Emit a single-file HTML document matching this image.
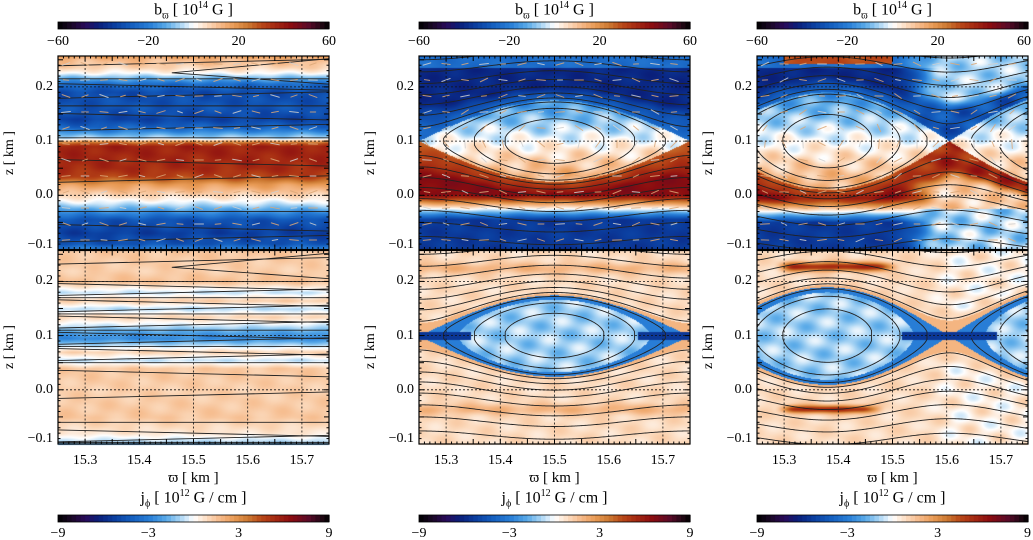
<!DOCTYPE html>
<html><head><meta charset="utf-8">
<style>
html,body{margin:0;padding:0;background:#fff;}
#root{position:relative;width:1033px;height:540px;overflow:hidden;font-family:"Liberation Serif",serif;color:#000;}
canvas,svg{position:absolute;left:0;top:0;}
.t{position:absolute;white-space:nowrap;font-size:14px;line-height:1;}
.ttl{position:absolute;white-space:nowrap;font-size:16px;line-height:1;transform:translateX(-50%);}
.ttl sub,.ttl sup{font-size:10px;}
</style></head>
<body>
<div id="root">
<canvas id="cv" width="1033" height="540"></canvas>
<svg id="sv" width="1033" height="540"></svg>
</div>
<script>
// ---------------- data ----------------
const xTicks = [15.3, 15.4, 15.5, 15.6, 15.7];
const zTicks = [0.2, 0.1, 0.0, -0.1];
const zTickLabels = ['0.2', '0.1', '0.0', '\u22120.1'];
const bBarTicks = [-60, -20, 20, 60];
const bBarLabels = ['\u221260', '\u221220', '20', '60'];
const jBarTicks = [-9, -3, 3, 9];
const jBarLabels = ['\u22129', '\u22123', '3', '9'];
// left column z-profiles
const leftBz = [0.257, 0.25, 0.235, 0.225, 0.215, 0.205, 0.19, 0.16, 0.14, 0.125, 0.112, 0.104, 0.097, 0.09, 0.05, 0.035, 0.02, 0.0, -0.015, -0.03, -0.045, -0.07, -0.09, -0.1];
const leftBv = [18, 12, 7, 0, -12, -24, -32, -30, -34, -26, -12, -3, 26, 38, 36, 32, 18, 7, -3, -16, -30, -35, -30, -18];
const leftJz = [0.257, 0.22, 0.2, 0.18, 0.165, 0.15, 0.135, 0.12, 0.105, 0.095, 0.085, 0.07, 0.055, 0.04, 0.0, -0.05, -0.08, -0.095, -0.1];
const leftJv = [1.4, 1.2, 1.6, -0.6, 1.3, -0.8, 1.1, -0.4, -2.2, -2.6, -1.1, 1.1, -0.6, 1.4, 1.2, 1.4, 0.6, -0.8, -1.8];
const leftTopContours = [0.245, 0.215, 0.2, 0.185, 0.165, 0.145, 0.125, 0.106, 0.06, 0.03, -0.03, -0.06, -0.08];
const leftBotContours = [0.238, 0.2, 0.19, 0.18, 0.17, 0.16, 0.15, 0.14, 0.13, 0.12, 0.11, 0.1, 0.09, 0.08, 0.07, 0.06, 0.05, 0.03, -0.01, -0.06, -0.08, -0.09, -0.097];
// cat's-eye islands: centre x, period, half-height, centre z, lower sheet z
const midEye = [15.5, 0.5, 0.075, 0.1, -0.025];
const rightEye = [15.38, 0.45, 0.09, 0.1, -0.03];
const psiLevels = [-0.4, 0.3, 0.85, 1.25, 1.8, 2.6, 3.6, 5, 6.8, 9, 12, 16];

// ---------------- geometry ----------------
const X0 = [58, 419, 757], PW = 271, Y0 = [56, 250.5], PH = 193.5;
const ZMAX = 0.257, ZR = 0.357;
function xOf(c, x) { return X0[c] + (x - 15.25) / 0.5 * PW; }
function zOf(r, z) { return Y0[r] + (ZMAX - z) / ZR * PH; }

const stops = [[-1,'#000000'],[-0.9,'#1a0826'],[-0.8,'#2a0a5a'],[-0.7,'#0a1f7a'],[-0.58,'#0b3fa0'],[-0.45,'#1560c0'],[-0.32,'#2a80d8'],[-0.2,'#5aaae8'],[-0.1,'#a8d4f4'],[0,'#ffffff'],[0.1,'#fcdcc0'],[0.2,'#f5b887'],[0.3,'#e89a55'],[0.4,'#cc7a32'],[0.5,'#b84818'],[0.6,'#a52a12'],[0.72,'#8a0c10'],[0.85,'#5a0a28'],[0.93,'#2a0818'],[1,'#000000']];
const stopRGB = stops.map(s => [s[0], parseInt(s[1].slice(1,3),16), parseInt(s[1].slice(3,5),16), parseInt(s[1].slice(5,7),16)]);
function cmap(t) {
  t = Math.max(-1, Math.min(1, t));
  for (let i = 1; i < stopRGB.length; i++) {
    if (t <= stopRGB[i][0]) {
      const a = stopRGB[i-1], b = stopRGB[i], f = (t - a[0]) / (b[0] - a[0]);
      return [a[1]+(b[1]-a[1])*f, a[2]+(b[2]-a[2])*f, a[3]+(b[3]-a[3])*f];
    }
  }
  return [0,0,0];
}
function interp(xs, vs, x) {
  if (x >= xs[0]) return vs[0];
  for (let i = 1; i < xs.length; i++) if (x >= xs[i]) { const f = (x - xs[i]) / (xs[i-1] - xs[i]); return vs[i] + (vs[i-1]-vs[i]) * f; }
  return vs[vs.length-1];
}
function sstep(a, b, x) { const t = Math.max(0, Math.min(1, (x - a) / (b - a))); return t * t * (3 - 2 * t); }
function psiOf(eye, x, z) {
  const d = z - eye[3], th = 2*Math.PI*(x - eye[0]) / eye[1];
  return { psi: 2*(d/eye[2])*(d/eye[2]) - Math.cos(th), d: d, th: th };
}
function noise(x, z) { return Math.sin(x*70 + z*45) * Math.cos(z*110 - x*25); }

function bEye(eye, x, z, right) {
  const p = psiOf(eye, x, z);
  const fr = right ? sstep(15.5, 15.6, x) : 0;   // right-side weak-field blend
  let v;
  const strong = 24 + 16 * Math.min(1, (p.psi - 1) / 1.5);
  if (p.psi < 1) {
    v = Math.max(-14, Math.min(12, -16 * p.d / eye[2])) + 4*noise(x,z);
  } else if (p.d > 0) {
    v = -strong;
    if (z > 0.235) v *= 0.6;
    if (right) {
      const band = 1 - sstep(1.6, 2.6, p.psi);
      v = v * (1 - fr) + fr * (-30 * band - 6 * (1 - band) + 4 * noise(x, z));
      if (z > 0.243 && x > 15.3 && x < 15.5) v = 30;
    }
  } else {
    const zL = eye[4];
    if (z > zL + 0.005) {
      v = (strong + 4) * Math.min(1, (z - zL) / 0.025);
      if (right) {
        const band = 1 - sstep(1.6, 2.6, p.psi);
        v = v * (1 - fr) + fr * (36 * band + 8 * (1 - band) + 5 * noise(x, z));
      }
    } else {
      v = -36 * Math.min(1, (zL - z) / 0.02);
      if (right) v = v * (1 - fr) + fr * (-6 + 6 * noise(x, z));
    }
  }
  return v + 2*noise(x, z);
}
function jEye(eye, x, z, right) {
  const p = psiOf(eye, x, z);
  let v;
  if (Math.abs(p.d) < 0.007 && Math.cos(p.th) < -0.35 && p.psi < 1.3) return -5.5;
  if (p.psi < 1) {
    v = p.psi > 0.6 ? -3.0 : -1.0 + 0.8*noise(x, z);
  } else {
    v = p.psi < 1.2 ? 1.9 : 0.9 + 0.4*noise(x,z);
    if (!right) {
      v += 1.0 * Math.exp(-Math.pow((z - 0.225) / 0.01, 2)) + 1.0 * Math.exp(-Math.pow((z + 0.035) / 0.01, 2));
    } else {
      const w1 = sstep(15.28, 15.32, x) * (1 - sstep(15.47, 15.52, x));
      const w2 = sstep(15.28, 15.32, x) * (1 - sstep(15.44, 15.49, x));
      v += 4.5 * w1 * Math.exp(-Math.pow((z - 0.228) / 0.008, 2));
      v += 4.5 * w2 * Math.exp(-Math.pow((z + 0.035) / 0.007, 2));
      const fr = sstep(15.55, 15.62, x) * sstep(1.3, 1.7, p.psi);
      v = v * (1 - fr) + fr * (0.4 + 0.9 * noise(x, z));
    }
  }
  return v;
}

// ---------------- heatmaps ----------------
const ctx = document.getElementById('cv').getContext('2d');
function paint(c, r, fn, vmax) {
  const w = PW, h = Math.ceil(PH);
  const img = ctx.createImageData(w, h);
  for (let py = 0; py < h; py++) for (let px = 0; px < w; px++) {
    const x = 15.25 + (px + 0.5) / PW * 0.5, z = ZMAX - (py + 0.5) / PH * ZR;
    const col = cmap(fn(x, z) / vmax);
    const k = (py * w + px) * 4;
    img.data[k] = col[0]; img.data[k+1] = col[1]; img.data[k+2] = col[2]; img.data[k+3] = 255;
  }
  ctx.putImageData(img, X0[c], Math.round(Y0[r]));
}
paint(0, 0, (x, z) => interp(leftBz, leftBv, z) + 3*noise(x, z), 60);
paint(0, 1, (x, z) => interp(leftJz, leftJv, z) + 0.3*noise(x, z), 9);
paint(1, 0, (x, z) => bEye(midEye, x, z, false), 60);
paint(1, 1, (x, z) => jEye(midEye, x, z, false), 9);
paint(2, 0, (x, z) => bEye(rightEye, x, z, true), 60);
paint(2, 1, (x, z) => jEye(rightEye, x, z, true), 9);

// ---------------- svg overlay ----------------
const NS = 'http://www.w3.org/2000/svg';
const sv = document.getElementById('sv');
function mk(tag, parent, attrs) {
  const e = document.createElementNS(NS, tag);
  for (const k in attrs) e.setAttribute(k, attrs[k]);
  parent.appendChild(e); return e;
}
const defs = mk('defs', sv, {});
for (let c = 0; c < 3; c++) for (let r = 0; r < 2; r++) {
  const cp = mk('clipPath', defs, { id: 'cp' + c + r });
  mk('rect', cp, { x: X0[c], y: Y0[r], width: PW, height: PH });
}
const root = document.getElementById('root');
function txt(cls, x, y, html, name, align) {
  const d = document.createElement('div');
  d.className = cls; d.innerHTML = html;
  d.style.left = x + 'px'; d.style.top = y + 'px';
  if (align === 'r') d.style.transform = 'translateX(-100%)';
  if (align === 'c') d.style.transform = 'translateX(-50%)';
  
  
  root.appendChild(d); return d;
}

const names = ['left', 'middle', 'right'];
for (let c = 0; c < 3; c++) {
  for (let r = 0; r < 2; r++) {
    const g = mk('g', sv, { 'clip-path': 'url(#cp' + c + r + ')' });
    
    
    const cg = mk('g', g, { fill: 'none', stroke: '#222', 'stroke-width': 0.9 });
    
    
    if (c === 0) {
      const L = r ? leftBotContours : leftTopContours;
      L.forEach((z0, i) => {
        const s = (i % 3 - 1) * 0.006;
        const p = mk('path', cg, { d: 'M' + xOf(c, 15.25) + ',' + zOf(r, z0 + s) + ' L' + xOf(c, 15.75) + ',' + zOf(r, z0 - s) });
        
      });
      const hp = mk('path', cg, { d: 'M' + xOf(c, 15.75) + ',' + zOf(r, 0.252) + ' L' + xOf(c, 15.46) + ',' + zOf(r, 0.226) + ' L' + xOf(c, 15.75) + ',' + zOf(r, 0.205) });
      
    } else {
      const eye = c === 1 ? midEye : rightEye;
      psiLevels.forEach(lv => {
        const N = 220; let run = [];
        const flush = (touchEnd) => {
          if (run.length > 1) {
            if (lv < 1) {
              let d = 'M' + run.map(q => xOf(c, q[0]) + ',' + zOf(r, eye[3] + q[1])).join(' L');
              d += ' L' + run.slice().reverse().map(q => xOf(c, q[0]) + ',' + zOf(r, eye[3] - q[1])).join(' L');
              if (!run.edge && !touchEnd) d += ' Z';
              const p = mk('path', cg, { d: d });
              
            } else {
              [1, -1].forEach(sg => {
                const p = mk('path', cg, { d: 'M' + run.map(q => xOf(c, q[0]) + ',' + zOf(r, eye[3] + sg * q[1])).join(' L') });
                
              });
            }
          }
          run = [];
        };
        for (let i = 0; i <= N; i++) {
          const x = 15.25 + 0.5 * i / N;
          const rr = (lv + Math.cos(2 * Math.PI * (x - eye[0]) / eye[1])) / 2;
          if (rr >= 0) { if (!run.length) run.edge = (i === 0); run.push([x, eye[2] * Math.sqrt(rr)]); }
          else flush(false);
        }
        flush(true);
      });
    }
    // vectors in top panels
    if (r === 0) {
      const vg = mk('g', g, { 'stroke-width': 1, 'stroke-linecap': 'round', opacity: 0.85 });
      
      
      let k = 0;
      for (let py = Y0[r] + 8; py < Y0[r] + PH; py += 16) {
        for (let px = X0[c] + 8; px < X0[c] + PW; px += 19) {
          const x = 15.25 + (px - X0[c]) / PW * 0.5, z = ZMAX - (py - Y0[r]) / PH * ZR;
          let ang;
          if (c === 0) ang = 0.35 * Math.sin(x * 97 + z * 53);
          else {
            const eye = c === 1 ? midEye : rightEye;
            const p = psiOf(eye, x, z);
            const gx = 2 * Math.PI / eye[1] * Math.sin(p.th) * (0.5 / PW);
            const gz = -4 * p.d / (eye[2] * eye[2]) * (ZR / PH);
            ang = Math.atan2(-gx, gz) + 0.3 * Math.sin(x * 80 + z * 60);
          }
          const L = 2.5 + 2 * Math.abs(Math.sin(x * 51 + z * 77));
          const ln = mk('line', vg, { x1: px - L * Math.cos(ang), y1: py - L * Math.sin(ang), x2: px + L * Math.cos(ang), y2: py + L * Math.sin(ang), stroke: (k++ % 3 === 0) ? '#d0d0d0' : '#dca878' });
          
        }
      }
    }
    // grid
    const gg = mk('g', sv, { stroke: '#111', 'stroke-width': 0.8, 'stroke-dasharray': '2,2' });
    
    
    xTicks.forEach(x => mk('line', gg, { x1: xOf(c, x), x2: xOf(c, x), y1: Y0[r], y2: Y0[r] + PH }));
    zTicks.slice(0, 3).forEach(z => mk('line', gg, { x1: X0[c], x2: X0[c] + PW, y1: zOf(r, z), y2: zOf(r, z) }));
    // ticks + frame
    const tg = mk('g', sv, { stroke: '#000', 'stroke-width': 1, fill: 'none' });
    
    
    for (let i = 0; i <= 50; i++) {
      const x = 15.25 + i * 0.01, px = xOf(c, x), len = (i % 5 === 0) ? 5 : 2.5;
      mk('line', tg, { x1: px, x2: px, y1: Y0[r] + PH, y2: Y0[r] + PH - len });
      mk('line', tg, { x1: px, x2: px, y1: Y0[r], y2: Y0[r] + len });
    }
    for (let i = 0; i <= 35; i++) {
      const z = -0.1 + i * 0.01, py = zOf(r, z), len = (i % 5 === 0) ? 5 : 2.5;
      mk('line', tg, { x1: X0[c], x2: X0[c] + len, y1: py, y2: py });
      mk('line', tg, { x1: X0[c] + PW, x2: X0[c] + PW - len, y1: py, y2: py });
    }
    const fr = mk('rect', tg, { x: X0[c], y: Y0[r], width: PW, height: PH, 'stroke-width': 1.2 });
    
    zTicks.forEach((z, i) => {
      let y = zOf(r, z) - 7;
      if (i === 3) y -= 5;
      txt('t', X0[c] - 5, y, zTickLabels[i], 'z-tick-label', 'r');
    });
    const zl = txt('t', X0[c] - 48, Y0[r] + PH / 2 - 7, 'z [ km ]', 'z-axis-title', 'c');
    zl.style.transform = 'translateX(-50%) rotate(-90deg)';
  }
  xTicks.forEach(x => txt('t', xOf(c, x), 454, x.toFixed(1), 'x-tick-label', 'c'));
  const xt = txt('t', X0[c] + PW / 2, 471, '\u03d6 [ km ]', 'x-axis-title', 'c');
  xt.style.fontSize = '15px';
  [[22, 'b', bBarTicks, bBarLabels, 60, 'b<sub>\u03d6</sub> [ 10<sup>14</sup> G ]', 1, 35],
   [515, 'j', jBarTicks, jBarLabels, 9, 'j<sub>\u03d5</sub> [ 10<sup>12</sup> G / cm ]', 489, 527]].forEach(cb => {
    const g = mk('g', sv, {});
    
    
    const n = 60;
    for (let i = 0; i < n; i++) {
      const t = -1 + (i + 0.5) * 2 / n, col = cmap(t);
      const rc = mk('rect', g, { x: X0[c] + i * PW / n, y: cb[0], width: PW / n + 0.6, height: 7, fill: 'rgb(' + col.map(Math.round).join(',') + ')' });
      
    }
    mk('rect', g, { x: X0[c], y: cb[0], width: PW, height: 7, fill: 'none', stroke: '#000', 'stroke-width': 0.8 });
    cb[2].forEach((v, i) => {
      let px = X0[c] + (v / cb[4] + 1) / 2 * PW;
      let al = 'c';
      if (c === 2 && i === cb[2].length - 1) { px = 1031; al = 'r'; }
      txt('t', px, cb[7], cb[3][i], 'colorbar-tick-label', al);
    });
    txt('ttl', X0[c] + PW / 2, cb[6], cb[5], cb[1] + '-colorbar-title', '');
  });
}
</script>
</body></html>
